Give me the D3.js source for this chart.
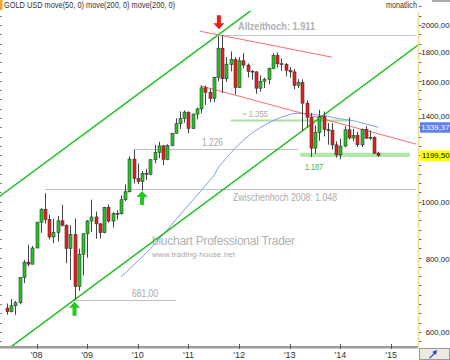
<!DOCTYPE html>
<html lang="de">
<head>
<meta charset="UTF-8">
<title>GOLD USD monatlich</title>
<script src="https://cdn.jsdelivr.net/npm/d3@7"></script>
<style>
  *{margin:0;padding:0;}
  body{background:#fff;}
  svg{display:block;font-family:"Liberation Sans",Arial,sans-serif;}
</style>
</head>
<body>
<svg id="mainsvg"></svg>
<script>
const width = 450, height = 360
const plot = {left:0, top:11, right:418, bottom:347}

// monthly candles, Jun 2007 .. Oct 2014
const opens  = [659,650,665,673,743,789,783, 834,923,971,933,871,886,928,912,833,880,717,814,
  882,927,942,917,886,978,927,955,954,1008,1040,1182, 1096,1082,1118,1114,1179,1214,1245,1181,1246,1308,1358,1386,
  1421,1333,1410,1439,1563,1536,1500,1628,1826,1620,1713,1746, 1565,1738,1709,1668,1664,1561,1604,1615,1687,1774,1718,1713,
  1675,1664,1578,1596,1472,1393,1234,1313,1396,1327,1323,1250, 1202,1244,1326,1284,1296,1250,1327,1283,1287,1210]
const highs  = [671,683,678,744,795,845,841, 924,975,1034,951,936,946,988,915,912,936,832,883,
  931,1008,962,919,980,989,960,967,1025,1071,1195,1226, 1162,1128,1138,1183,1250,1265,1248,1253,1310,1387,1425,1431,
  1424,1414,1447,1575,1578,1559,1632,1913,1921,1764,1803,1764, 1763,1791,1720,1676,1668,1641,1627,1693,1790,1796,1755,1723,
  1696,1683,1617,1616,1488,1417,1348,1434,1424,1361,1361,1267, 1280,1345,1392,1331,1315,1332,1345,1323,1293,1217]
const lows   = [642,648,642,669,727,776,782, 834,885,918,863,850,856,907,786,736,681,705,749,
  803,888,865,866,884,921,904,932,951,1003,1037,1075, 1072,1045,1089,1111,1163,1187,1155,1177,1243,1306,1330,1363,
  1308,1330,1381,1415,1462,1478,1478,1604,1532,1600,1667,1523, 1562,1688,1628,1614,1527,1540,1562,1585,1682,1692,1671,1635,
  1626,1555,1562,1321,1338,1192,1207,1270,1292,1251,1227,1189, 1182,1238,1277,1268,1240,1240,1281,1274,1205,1192]
const closes = [650,665,673,743,789,783,834, 923,971,933,871,886,928,912,833,880,717,814,882,
  927,942,917,886,978,927,955,954,1008,1040,1182,1096, 1082,1118,1114,1179,1214,1245,1181,1246,1308,1358,1386,1421,
  1333,1410,1439,1563,1536,1500,1628,1826,1620,1713,1746,1565, 1738,1709,1668,1664,1561,1604,1615,1687,1774,1718,1713,1675,
  1664,1578,1596,1472,1393,1234,1313,1396,1327,1323,1250,1202, 1244,1326,1284,1296,1250,1327,1283,1287,1210,1199.5]

// move(50), starts at month 27 (Sep 2009)
const maStart = 27
const maValues = [745,756,768,780,793,805,818,832,848,864,880,896,914,932,950,968,987,1006,1025,1045,
  1066,1086,1107,1142,1165,1188,1210,1232,1253,1273,1291,1308,1323,1337,1350,1362,1373,1384,1393,1401,
  1408,1413,1415,1415,1413,1410,1407,1404,1401,1398,1393,1388,1384,1381,1378,1374,1369,1363,1357,1351,1345,1339.37]

const yearTicks  = [7,19,31,43,55,67,79,91]
const yearLabels = ["'08","'09","'10","'11","'12","'13","'14","'15"]
const priceTicks = [600,800,1000,1400,1600,1800,2000]

// drawn trend lines: [month, price] anchor pairs
const channelUpper = [[0,1043],[51,1947]]
const channelLower = [[16,681],[70,1321]]
const resistUpper  = [[45.7,1952],[77,1763]]
const resistLower  = [[45.7,1577],[96.7,1255]]

const allTimeHigh = 1925, mid2008 = 1050, high2009 = 1232, low2008 = 681, zone1355 = 1380
const supportBand = [1192,1212]

const svg = d3.select('#mainsvg').attr('width',width).attr('height',height)
svg.append('rect').attr('width',width).attr('height',height).attr('fill','#fff')

const x = d3.scaleLinear().domain([0,88]).range([7,378.4])
const y = d3.scaleLog().domain([600,2000]).range([332,25])
const fmt = v => d3.format('.2f')(v).replace('.',',')

svg.append('clipPath').attr('id','clip').append('rect')
  .attr('x',plot.left).attr('y',plot.top).attr('width',plot.right-plot.left).attr('height',plot.bottom-plot.top)
const g = svg.append('g').attr('clip-path','url(#clip)')

function trend(a, i){ // price on a straight (log) line
  const [[i1,p1],[i2,p2]] = a
  return p1*Math.pow(p2/p1,(i-i1)/(i2-i1))
}
function drawTrend(a, from, to, color, w){
  g.append('line')
    .attr('x1',x(from)).attr('y1',y(trend(a,from)))
    .attr('x2',x(to)).attr('y2',y(trend(a,to)))
    .attr('stroke',color).attr('stroke-width',w)
}
function hLine(p, from, to, color, w){
  g.append('line').attr('x1',x(from)).attr('x2',x(to))
    .attr('y1',Math.round(y(p))+0.5).attr('y2',Math.round(y(p))+0.5)
    .attr('stroke',color).attr('stroke-width',w)
}

// levels
hLine(allTimeHigh, 50.5, 97, '#c8c8c8', 1.2)
hLine(mid2008, 9, 97, '#c0c0c0', 1.2)
hLine(high2009, 30, 69, '#c0c0c0', 1.2)
hLine(low2008, 16, 40, '#bdbdbd', 1.2)
hLine(zone1355, 53, 81, '#a8e0a0', 2)
g.append('rect').attr('x',x(69.5)).attr('width',x(95.5)-x(69.5))
  .attr('y',y(supportBand[1])).attr('height',y(supportBand[0])-y(supportBand[1]))
  .attr('fill','#b4e6a8')

// watermark
g.append('text').attr('x',152).attr('y',245).attr('font-size',12).attr('fill','#b0b0b0')
  .attr('textLength',143).attr('lengthAdjust','spacing').text('bluchart Professional Trader')
g.append('text').attr('x',152).attr('y',257).attr('font-size',8).attr('fill','#a8a8a8')
  .attr('textLength',83).text('www.trading-house.net')

// moving average
g.append('path').datum(maValues)
  .attr('fill','none').attr('stroke','#7f9cf0').attr('stroke-width',1)
  .attr('d', d3.line().x((d,i)=>x(maStart+i)).y(d=>y(d)))

// trend lines
drawTrend(channelUpper, -3, 62, '#1fbf1f', 1.5)
drawTrend(channelLower, 0, 99, '#1fbf1f', 1.5)
drawTrend(resistUpper, 45.7, 77, '#ff6b6b', 1)
drawTrend(resistLower, 45.7, 97, '#ff6b6b', 1)

// candles
const idx = d3.range(opens.length)
const cx = i => Math.round(x(i))
g.selectAll('line.wick').data(idx).join('line').attr('class','wick')
  .attr('x1',i=>cx(i)+0.5).attr('x2',i=>cx(i)+0.5)
  .attr('y1',i=>y(highs[i])).attr('y2',i=>y(lows[i]))
  .attr('stroke','#444').attr('stroke-width',1)
g.selectAll('rect.body').data(idx).join('rect').attr('class','body')
  .attr('x',i=>cx(i)-1).attr('width',3)
  .attr('y',i=>y(Math.max(opens[i],closes[i])))
  .attr('height',i=>Math.max(0.8, Math.abs(y(opens[i])-y(closes[i]))))
  .attr('fill',i=>closes[i]>=opens[i] ? '#22c822' : '#ee1c1c')
  .attr('stroke','#333').attr('stroke-width',0.6)

// arrows
function arrow(i, tipY, dir, color){
  const ax = x(i)
  const s = dir // 1 = points down, -1 = points up
  const p = [[ax-2,tipY-s*14],[ax+2,tipY-s*14],[ax+2,tipY-s*6],[ax+5.5,tipY-s*6],[ax,tipY],[ax-5.5,tipY-s*6],[ax-2,tipY-s*6]]
  g.append('path').attr('d','M'+p.join('L')+'Z').attr('fill',color)
}
arrow(50.2, y(highs[51])-6, 1, '#f01c1c')
arrow(16, y(lows[16])+2, -1, '#22c822')
arrow(32, y(lows[32])+0.5, -1, '#22c822')

// level labels
const lab = (t, tx, p, dy, opt={}) => g.append('text').attr('x',tx).attr('y',y(p)+dy)
  .attr('font-size',opt.size||10).attr('font-weight',opt.bold?'bold':'normal')
  .attr('fill',opt.color||'#a9a9a9').attr('textLength',opt.len||null)
  .attr('lengthAdjust','spacingAndGlyphs').text(t)
lab('Allzeithoch: 1.911', 238, allTimeHigh, -4.5, {bold:true, len:77, color:'#b0b0b0'})
lab('Zwischenhoch 2008: 1.048', 233, mid2008, 12, {len:104, color:'#aaa'})
lab('1.226', 202, high2009, -3, {len:21})
lab('~ 1.355', 242, zone1355, -2.5, {len:26, size:9.5})
lab('681,00', 132, low2008, -2.5, {len:26})
lab('1.187', 305, supportBand[0], 13, {len:18, color:'#3cb43c', size:9.5})

// price axis on the right
svg.append('line').attr('x1',418.5).attr('x2',418.5).attr('y1',12).attr('y2',348)
  .attr('stroke','#f2d98c').attr('stroke-width',1.5)
const minor = d3.range(y(2000)-2*9.3, plot.bottom, 9.3)
svg.selectAll('line.mr').data(minor).join('line').attr('class','mr')
  .attr('x1',419).attr('x2',421.5).attr('y1',d=>Math.round(d)+0.5).attr('y2',d=>Math.round(d)+0.5)
  .attr('stroke','#666')
svg.selectAll('line.ml').data(minor).join('line').attr('class','ml')
  .attr('x1',0).attr('x2',2).attr('y1',d=>Math.round(d)+0.5).attr('y2',d=>Math.round(d)+0.5)
  .attr('stroke','#888')
svg.selectAll('text.pt').data(priceTicks).join('text').attr('class','pt')
  .attr('x',449.5).attr('y',d=>y(d)+3).attr('text-anchor','end')
  .attr('font-size',7.8).attr('fill','#222').text(d=>fmt(d))

function tag(v, bg, fg){
  svg.append('rect').attr('x',420).attr('y',y(v)-5).attr('width',30).attr('height',10.5).attr('fill',bg)
  svg.append('text').attr('x',449.5).attr('y',y(v)+3).attr('text-anchor','end')
    .attr('font-size',7.8).attr('fill',fg).text(fmt(v))
}
tag(maValues[maValues.length-1], '#5b82f0', '#fff')
tag(closes[closes.length-1], '#ffff00', '#000')

// time axis
svg.append('rect').attr('x',0).attr('y',346).attr('width',418).attr('height',2.5).attr('fill','#9c9c9c')
svg.selectAll('line.yt').data(yearTicks).join('line').attr('class','yt')
  .attr('x1',d=>Math.round(x(d))+0.5).attr('x2',d=>Math.round(x(d))+0.5).attr('y1',344).attr('y2',349)
  .attr('stroke','#555')
svg.selectAll('text.yl').data(yearTicks).join('text').attr('class','yl')
  .attr('x',d=>x(d)).attr('y',357.5).attr('text-anchor','middle')
  .attr('font-size',9).attr('fill','#333').text((d,i)=>yearLabels[i])

// header
svg.append('rect').attr('x',0).attr('y',0).attr('width',2.5).attr('height',10).attr('fill','#f5a623')
svg.append('text').attr('x',4).attr('y',8).attr('font-size',9).attr('fill','#333')
  .attr('textLength',171).attr('lengthAdjust','spacingAndGlyphs')
  .text('GOLD USD move(50, 0) move(200, 0) move(200, 0)')
svg.append('text').attr('x',417).attr('y',8).attr('text-anchor','end').attr('font-size',9).attr('fill','#333')
  .attr('textLength',31).attr('lengthAdjust','spacingAndGlyphs').text('monatlich')
svg.append('rect').attr('x',432).attr('y',0).attr('width',18).attr('height',2).attr('fill','#aaa')

// corner button
svg.append('rect').attr('x',419.5).attr('y',348.5).attr('width',30).attr('height',11).attr('fill','#ece9e0').attr('stroke','#999')
svg.append('path').attr('d','M429,358 L434,353 L432,352 L437,350 L436,355 L435,353.8 L430,358.6Z').attr('fill','#1a3fd0')
</script>
</body>
</html>
